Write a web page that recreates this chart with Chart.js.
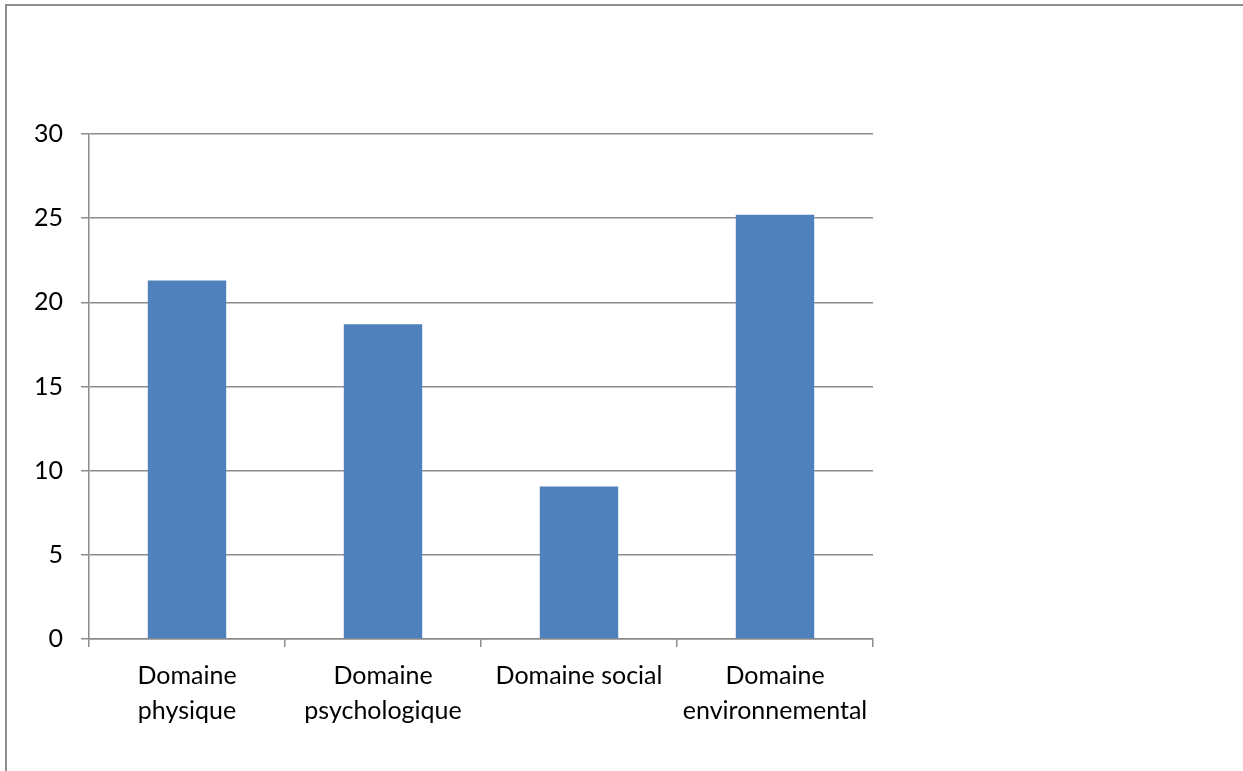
<!DOCTYPE html>
<html lang="fr">
<head>
<meta charset="utf-8">
<title>Scores par domaine</title>
<script src="https://cdn.jsdelivr.net/npm/chart.js@4/dist/chart.umd.min.js"></script>
<style>
  html, body { margin: 0; padding: 0; background: #ffffff; }
  #frame {
    position: absolute; left: 5px; top: 4px; width: 1238px; height: 767px;
    border-top: 2px solid #8e8e8e; border-left: 2px solid #8e8e8e;
    box-sizing: border-box;
  }
  #wrap { position: absolute; left: 0; top: 0; width: 1243px; height: 771px; }
</style>
</head>
<body>
<div id="frame"></div>
<div id="wrap"><canvas id="chart" width="1243" height="771"></canvas></div>
<script>
// Catégories (axe horizontal)
const categories = [
  ['Domaine', 'physique'],
  ['Domaine', 'psychologique'],
  'Domaine social',
  ['Domaine', 'environnemental']
];
// Scores par domaine
const scores = [21.3, 18.7, 9.06, 25.2];
// Graduations de l'axe vertical
const yTicks = [0, 5, 10, 15, 20, 25, 30];

const gridGrey = '#8c8c8c';
const labelFont = { family: 'Lato, "Open Sans", sans-serif', size: 25 };

new Chart(document.getElementById('chart'), {
  type: 'bar',
  data: {
    labels: categories,
    datasets: [{
      data: scores,
      backgroundColor: '#4f81bd',
      borderWidth: 0,
      categoryPercentage: 1.0,
      barPercentage: 0.4
    }]
  },
  options: {
    responsive: false,
    animation: false,
    devicePixelRatio: 1,
    layout: { padding: { left: 0, top: 134, right: 370, bottom: 20 } },
    plugins: { legend: { display: false }, tooltip: { enabled: false } },
    scales: {
      x: {
        grid: {
          display: true,
          offset: true,
          drawOnChartArea: false,
          drawTicks: true,
          tickLength: 8,
          color: gridGrey,
          lineWidth: 1.5
        },
        border: { display: true, color: gridGrey, width: 1.5 },
        ticks: {
          color: '#000000',
          font: { ...labelFont, lineHeight: 1.4 },
          padding: 11,
          maxRotation: 0,
          autoSkip: false
        },
        afterFit(scale) { scale.height = 112; }
      },
      y: {
        min: yTicks[0],
        max: yTicks[yTicks.length - 1],
        afterBuildTicks(scale) { scale.ticks = yTicks.map(v => ({ value: v })); },
        grid: {
          color: gridGrey,
          lineWidth: 1.5,
          drawTicks: true,
          tickLength: 8
        },
        border: { display: true, color: gridGrey, width: 1.5 },
        ticks: {
          color: '#000000',
          font: labelFont,
          padding: 18
        },
        afterFit(scale) { scale.width = 89; }
      }
    }
  }
});
</script>
</body>
</html>
